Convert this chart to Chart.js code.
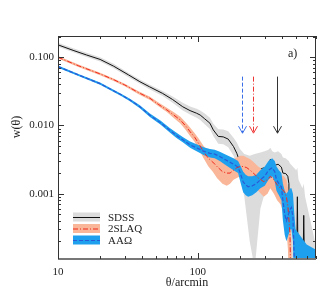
<!DOCTYPE html>
<html>
<head>
<meta charset="UTF-8">
<title>w(θ)</title>
<script src="https://cdn.jsdelivr.net/npm/chart.js"></script>
<style>
  html, body { margin: 0; padding: 0; background: #fff; }
</style>
</head>
<body>
<canvas id="wtheta" width="333" height="296"></canvas>
<script>
// SDSS
const sdssTheta = [10, 13, 16, 20, 25, 32, 38.5, 45, 56, 66, 78, 88, 98, 104, 112, 122, 129, 140, 152, 165, 180, 190, 200, 215, 235, 255, 280, 300, 320, 330, 341, 355, 375, 396, 406, 425, 440, 448, 455, 505, 515, 525, 560, 572, 585, 700];
const sdssW = [0.152, 0.125, 0.108, 0.093, 0.074, 0.055, 0.0438, 0.037, 0.0295, 0.024, 0.0188, 0.0165, 0.0151, 0.0142, 0.0125, 0.0108, 0.0086, 0.0069, 0.0068, 0.0063, 0.0049, 0.0039, 0.0029, 0.0023, 0.0021, 0.0022, 0.0023, 0.0024, 0.0023, 0.0032, 0.0028, 0.0026, 0.0027, 0.00245, 0.002, 0.00197, 0.0018, 0.0014, 0.00002, 0.00002, 0.0009, 0.00002, 0.00002, 0.00048, 0.00002, 0.00002];
const sdssHigh = [0.163, 0.134, 0.116, 0.100, 0.080, 0.059, 0.047, 0.040, 0.032, 0.0265, 0.0215, 0.019, 0.0175, 0.0165, 0.015, 0.013, 0.0106, 0.0088, 0.0087, 0.0082, 0.0066, 0.0056, 0.0045, 0.0038, 0.0036, 0.0038, 0.004, 0.0042, 0.0044, 0.0047, 0.0042, 0.004, 0.0042, 0.0038, 0.0034, 0.0033, 0.0031, 0.003, 0.0028, 0.0022, 0.0024, 0.0016, 0.0012, 0.0014, 0.0009, 0.00017];
const sdssLow = [0.142, 0.117, 0.101, 0.087, 0.069, 0.051, 0.041, 0.034, 0.027, 0.0215, 0.0165, 0.0145, 0.013, 0.012, 0.0104, 0.0089, 0.007, 0.0054, 0.0053, 0.0048, 0.0036, 0.0026, 0.0018, 0.0009, 0.0002, 0.00008, 0.0006, 0.001, 0.0013, 0.0017, 0.0016, 0.0014, 0.0014, 0.0011, 0.0009, 0.0006, 0.0003, 0.0001, 0.00002, 0.00002, 0.00002, 0.00002, 0.00002, 0.00002, 0.00002, 0.00002];

// 2SLAQ
const slaqTheta = [10, 14, 20, 25, 30, 38, 45.5, 52, 60, 67, 75, 82, 88, 95, 101, 110, 119, 128, 137, 150, 161, 170, 180, 190, 201, 212, 224, 237, 250, 270, 296, 315, 330, 350, 369, 390, 412, 430, 441, 456, 466, 480];
const slaqW = [0.100, 0.075, 0.057, 0.047, 0.0393, 0.030, 0.025, 0.0205, 0.0169, 0.0143, 0.012, 0.0098, 0.0081, 0.0067, 0.0055, 0.0041, 0.0033, 0.0029, 0.0025, 0.0021, 0.002, 0.002, 0.0022, 0.0024, 0.0025, 0.0025, 0.0024, 0.0022, 0.002, 0.0017, 0.0015, 0.0016, 0.0018, 0.0016, 0.00135, 0.0012, 0.0011, 0.0009, 0.00064, 0.00026, 0.00002, 0.00002];
const slaqHigh = [0.104, 0.078, 0.0595, 0.049, 0.041, 0.0315, 0.0264, 0.0218, 0.0182, 0.0157, 0.0134, 0.011, 0.0093, 0.0077, 0.0065, 0.005, 0.0042, 0.0038, 0.0034, 0.003, 0.0028, 0.0029, 0.0032, 0.0034, 0.0036, 0.0036, 0.0034, 0.0032, 0.0029, 0.0025, 0.0022, 0.0023, 0.0026, 0.0024, 0.0021, 0.0019, 0.0018, 0.0016, 0.0012, 0.0006, 0.0002, 0.00002];
const slaqLow = [0.096, 0.072, 0.0545, 0.045, 0.0375, 0.0285, 0.0237, 0.0193, 0.0157, 0.013, 0.0107, 0.0086, 0.007, 0.0057, 0.0046, 0.0033, 0.0025, 0.0021, 0.0017, 0.0014, 0.0013, 0.0014, 0.0016, 0.0017, 0.0018, 0.0017, 0.0016, 0.0015, 0.0013, 0.0011, 0.0009, 0.001, 0.0012, 0.001, 0.0008, 0.0007, 0.0005, 0.0003, 0.00015, 0.00002, 0.00002, 0.00002];

// AAΩ
const aaoTheta = [10, 14, 20, 28.5, 32.7, 38.5, 45.4, 54, 63, 70, 78.5, 88, 98, 110, 122, 132, 143.6, 155, 169, 180, 194, 203, 211, 220, 229, 245, 262, 280, 301, 320, 340, 355, 365, 380, 396, 406, 418, 430, 445, 460, 467, 479, 490, 500, 600, 700];
const aaoW = [0.073, 0.055, 0.041, 0.0279, 0.0236, 0.0188, 0.0141, 0.011, 0.0085, 0.0072, 0.0061, 0.0052, 0.0047, 0.0042, 0.0039, 0.0038, 0.0035, 0.0032, 0.0029, 0.0027, 0.00245, 0.0019, 0.00148, 0.00135, 0.00126, 0.0013, 0.0014, 0.0016, 0.0018, 0.0022, 0.0024, 0.0021, 0.0016, 0.0014, 0.00126, 0.0008, 0.0005, 0.0004, 0.0005, 0.0006, 0.00063, 0.00045, 0.0001, 0.00002, 0.00002, 0.00002];
const aaoHigh = [0.076, 0.057, 0.0425, 0.029, 0.0246, 0.0197, 0.015, 0.0118, 0.0092, 0.0079, 0.0067, 0.0058, 0.0053, 0.0048, 0.0045, 0.0044, 0.0041, 0.0038, 0.0035, 0.0033, 0.003, 0.0025, 0.0021, 0.0019, 0.0018, 0.0018, 0.0019, 0.0022, 0.0025, 0.003, 0.0033, 0.003, 0.0025, 0.0022, 0.002, 0.0014, 0.0011, 0.001, 0.0011, 0.0012, 0.0012, 0.001, 0.0005, 0.0003, 0.00018, 0.00015];
const aaoLow = [0.070, 0.053, 0.0395, 0.0268, 0.0226, 0.0179, 0.0133, 0.0103, 0.0079, 0.0066, 0.0056, 0.0047, 0.0042, 0.0037, 0.0034, 0.0033, 0.003, 0.0027, 0.0024, 0.0022, 0.002, 0.0014, 0.00105, 0.00095, 0.0009, 0.00095, 0.00105, 0.0012, 0.0013, 0.0016, 0.0018, 0.0015, 0.0011, 0.00095, 0.0008, 0.0004, 0.00025, 0.0002, 0.00025, 0.0003, 0.0003, 0.0002, 0.00002, 0.00002, 0.00002, 0.00002];

// arrows (theta where each one points), tick labels
const arrowTheta = [207, 248, 368];
const arrowTop = 0.052, arrowTip = 0.0077;
const xLabelTicks = [10, 100];
const yLabelTicks = [0.001, 0.01, 0.1];
const seriesNames = ['SDSS', '2SLAQ', 'AAΩ'];

const greyBand = '#dcdcdc', salmonBand = '#f9b698', blueBand = '#1ea0ee';
const blackLine = '#111', redLine = '#f02a1e', blueLine = '#2a5bd7';
const serif = '"Liberation Serif", "DejaVu Serif", serif';

function pts(xs, ys) { return xs.map((t, i) => ({ x: t, y: ys[i] })); }

function band(xs, ys, color, fill, order) {
  return { data: pts(xs, ys), borderColor: 'rgba(0,0,0,0)', borderWidth: 0, backgroundColor: color,
           fill: fill, pointRadius: 0, order: order };
}

const deco = {
  id: 'deco',
  afterDatasetsDraw(chart) {
    const { ctx, chartArea: a, scales: { x, y } } = chart;
    ctx.save();

    // frame
    ctx.strokeStyle = '#333';
    ctx.lineWidth = 1;
    ctx.strokeRect(a.left + 0.5, a.top + 0.5, a.right - a.left - 1, a.bottom - a.top - 1);
    ctx.strokeStyle = '#777';
    ctx.lineWidth = 2;
    ctx.beginPath(); ctx.moveTo(a.left, a.bottom); ctx.lineTo(a.right, a.bottom); ctx.stroke();

    // ticks, pointing inwards on all sides
    ctx.strokeStyle = '#333';
    ctx.lineWidth = 1;
    ctx.beginPath();
    for (let d = 10; d <= 100; d *= 10) {
      for (let m = 1; m <= 9; m++) {
        const v = d * m;
        if (v < 10 || v > 700) continue;
        const len = m === 1 ? 6 : 3;
        const px = Math.round(x.getPixelForValue(v)) + 0.5;
        ctx.moveTo(px, a.bottom); ctx.lineTo(px, a.bottom - len);
        ctx.moveTo(px, a.top); ctx.lineTo(px, a.top + len);
      }
    }
    for (let d = 0.0001; d <= 0.11; d *= 10) {
      for (let m = 1; m <= 9; m++) {
        const v = d * m;
        if (v < 0.00011 || v > 0.205) continue;
        const len = m === 1 ? 6 : 3;
        const py = Math.round(y.getPixelForValue(v)) + 0.5;
        ctx.moveTo(a.left, py); ctx.lineTo(a.left + len, py);
        ctx.moveTo(a.right, py); ctx.lineTo(a.right - len, py);
      }
    }
    ctx.stroke();

    // arrows
    const arrowColors = ['#3a6ee8', '#ee3333', '#333'];
    const arrowDash = [[4, 2], [5, 2, 1, 2], []];
    arrowTheta.forEach((t, i) => {
      const px = Math.round(x.getPixelForValue(t)) + 0.5;
      const y0 = y.getPixelForValue(arrowTop);
      const y1 = y.getPixelForValue(arrowTip);
      ctx.strokeStyle = arrowColors[i];
      ctx.lineWidth = 1;
      ctx.setLineDash(arrowDash[i]);
      ctx.beginPath(); ctx.moveTo(px, y0); ctx.lineTo(px, y1); ctx.stroke();
      ctx.setLineDash([]);
      ctx.beginPath();
      ctx.moveTo(px - 4, y1 - 7); ctx.lineTo(px, y1); ctx.lineTo(px + 4, y1 - 7);
      ctx.stroke();
    });

    // legend
    const rows = [
      { name: seriesNames[0], band: greyBand, line: blackLine, dash: [] },
      { name: seriesNames[1], band: salmonBand, line: redLine, dash: [5, 2, 1, 2] },
      { name: seriesNames[2], band: blueBand, line: blueLine, dash: [4, 2] }
    ];
    ctx.font = '11px ' + serif;
    ctx.textBaseline = 'middle';
    ctx.textAlign = 'left';
    rows.forEach((r, i) => {
      const cy = 217 + i * 11.5;
      ctx.fillStyle = r.band;
      ctx.fillRect(73, cy - 4.5, 27, 9);
      ctx.strokeStyle = r.line;
      ctx.setLineDash(r.dash);
      ctx.beginPath(); ctx.moveTo(73, cy + 0.5); ctx.lineTo(100, cy + 0.5); ctx.stroke();
      ctx.setLineDash([]);
      ctx.fillStyle = '#222';
      ctx.fillText(r.name, 108, cy + 1);
    });

    // panel label
    ctx.font = '12px ' + serif;
    ctx.fillText('a)', 288, 54);

    // y title
    ctx.translate(17, 127);
    ctx.rotate(-Math.PI / 2);
    ctx.textAlign = 'center';
    ctx.fillText('w(θ)', 0, 0);

    ctx.restore();
  }
};

new Chart(document.getElementById('wtheta'), {
  type: 'line',
  data: {
    datasets: [
      band(sdssTheta, sdssHigh, greyBand, '+1', 90),
      band(sdssTheta, sdssLow, greyBand, false, 91),
      { data: pts(sdssTheta, sdssW), borderColor: blackLine, borderWidth: 1, pointRadius: 0, fill: false, order: 80 },
      band(slaqTheta, slaqHigh, salmonBand, '+1', 70),
      band(slaqTheta, slaqLow, salmonBand, false, 71),
      { data: pts(slaqTheta, slaqW), borderColor: redLine, borderWidth: 1, borderDash: [5, 2, 1, 2], pointRadius: 0, fill: false, order: 20 },
      band(aaoTheta, aaoHigh, blueBand, '+1', 50),
      band(aaoTheta, aaoLow, blueBand, false, 51),
      { data: pts(aaoTheta, aaoW), borderColor: blueLine, borderWidth: 1.2, borderDash: [4, 2], pointRadius: 0, fill: false, order: 10 }
    ]
  },
  options: {
    responsive: false,
    animation: false,
    devicePixelRatio: 1,
    layout: { padding: { top: 36, right: 17, left: 0, bottom: 0 } },
    plugins: { legend: { display: false }, tooltip: { enabled: false } },
    scales: {
      x: {
        type: 'logarithmic', min: 10, max: 700,
        grid: { display: false, drawTicks: false, tickLength: 0 },
        border: { display: false },
        ticks: { padding: 7, color: '#222', font: { family: serif, size: 11 }, maxRotation: 0, autoSkip: false,
                 callback: v => String(v) },
        afterBuildTicks: s => { s.ticks = xLabelTicks.map(v => ({ value: v })); },
        afterFit: s => { s.height = 37; },
        title: { display: true, text: 'θ/arcmin', color: '#222', font: { family: serif, size: 12 },
                 padding: { top: 0, bottom: 6 } }
      },
      y: {
        type: 'logarithmic', min: 0.00011, max: 0.205,
        grid: { display: false, drawTicks: false, tickLength: 0 },
        border: { display: false },
        ticks: { padding: 4, color: '#222', font: { family: serif, size: 11 }, autoSkip: false,
                 callback: v => Number(v).toFixed(3) },
        afterBuildTicks: s => { s.ticks = yLabelTicks.map(v => ({ value: v })); },
        afterFit: s => { s.width = 58; }
      }
    }
  },
  plugins: [deco]
});
</script>
</body>
</html>
